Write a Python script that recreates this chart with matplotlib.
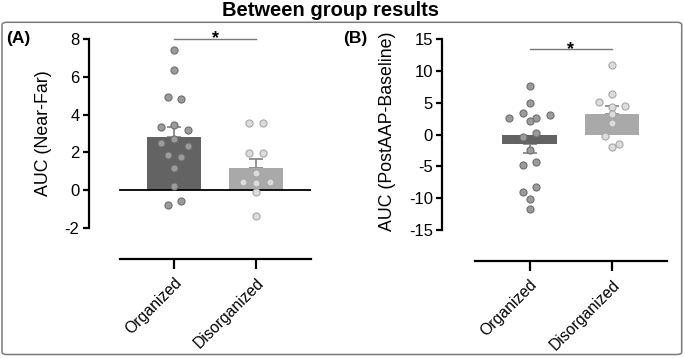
import numpy as np
import matplotlib
matplotlib.use('Agg')
import matplotlib.pyplot as plt
from matplotlib.patches import FancyBboxPatch

plt.rcParams['font.family'] = ['Liberation Sans', 'DejaVu Sans']

groups = ['Organized', 'Disorganized']

# (A) AUC (Near-Far), single subjects
a_org = [7.42, 6.35, 4.95, 4.85, 3.35, 3.45, 3.2, 2.5, 2.7, 2.35, 1.85, 1.75, 1.15, 0.2, -0.8, -0.55]
a_dis = [3.53, 3.58, 1.96, 1.96, 0.89, 0.45, 0.38, 0.45, -0.07, -1.35]
a_mean = [2.8, 1.17]
a_sem = [0.57, 0.5]

# (B) AUC (PostAAP-Baseline), single subjects
b_org = [7.66, 5.03, 2.58, 3.46, 2.58, 3.15, 2.15, -0.3, 0.27, -2.36, -4.7, -4.3, -9.1, -8.2, -10.2, -11.7]
b_dis = [10.96, 6.45, 5.14, 4.3, 4.5, 3.25, 1.9, -0.25, -2.0, -1.4]
b_mean = [-1.45, 3.2]
b_sem = [1.45, 1.3]

W, H = 685, 358
fig = plt.figure(figsize=(W / 100, H / 100), dpi=100)

bar_cols = ['#636363', '#a9a9a9']
dot_face = ['#9b9b9b', '#dcdcdc']
dot_edge = ['#6e6e6e', '#a6a6a6']


def swarm(vals, px_y, px_x, dot=7.6, gap=13.4):
    # group values closer than one dot, spread each group sideways (prism style)
    vals = np.asarray(vals)
    order = np.argsort(-vals, kind='stable')
    offs = np.zeros(len(vals))
    grp = []
    for i in order:
        if grp and (vals[grp[-1][0]] - vals[i]) * px_y < dot:
            grp[-1].append(i)
        else:
            grp.append([i])
    for g in grp:
        g = sorted(g)
        n = len(g)
        for k, i in enumerate(g):
            offs[i] = (k - (n - 1) / 2) * gap / px_x
    return offs


def panel(box, xlim, ylim, yticks, pts, means, sems, ylabel, lab_x, lab_y, sig_y, xbound_lo):
    l, r, t, b = box
    ax = fig.add_axes([l / W, 1 - b / H, (r - l) / W, (b - t) / H])
    ax.set_xlim(*xlim)
    ax.set_ylim(*ylim)
    px_x = (r - l) / (xlim[1] - xlim[0])
    px_y = (b - t) / (ylim[1] - ylim[0])
    x = np.arange(len(groups))

    ax.bar(x, means, width=0.66, color=bar_cols, zorder=2)
    for i in range(len(groups)):
        err = [[0], [sems[i]]] if means[i] >= 0 else [[sems[i]], [0]]
        ax.errorbar(x[i], means[i], yerr=err, fmt='none', ecolor='#8a8a8a',
                    elinewidth=1.3, capsize=4.7, capthick=1.3, zorder=1.5)
        v = np.asarray(pts[i])
        xs = x[i] + swarm(v, px_y, px_x)
        ax.scatter(xs, v, s=26, facecolor=dot_face[i], edgecolor=dot_edge[i],
                   linewidth=0.8, zorder=3, clip_on=False)

    # significance bar
    ax.plot(x, [sig_y, sig_y], color='#777777', lw=1, clip_on=False)
    ax.annotate('*', xy=(x.mean(), sig_y), xytext=(0, -3.2), textcoords='offset points',
                ha='center', va='baseline', fontsize=13, fontweight='bold')

    for s in ['top', 'right']:
        ax.spines[s].set_visible(False)
    ax.spines['left'].set_linewidth(1.6)
    ax.spines['bottom'].set_linewidth(1.6)
    ax.spines['bottom'].set_position(('outward', 22.5))
    ax.spines['bottom'].set_bounds(xbound_lo, xlim[1])
    ax.set_yticks(yticks)
    ax.set_yticklabels([str(v) for v in yticks])
    ax.tick_params(axis='y', length=4, width=1.6, pad=2.5, labelsize=12)
    ax.set_xticks(x)
    ax.set_xticklabels(groups, rotation=45, ha='right', va='top', rotation_mode='anchor')
    ax.tick_params(axis='x', length=7.2, width=1.6, pad=4, labelsize=11.3)
    ax.set_ylabel(ylabel, fontsize=12.8, va='center')
    ax.yaxis.set_label_coords(lab_x, lab_y)
    return ax


axA = panel((88.5, 311, 39, 228), (-1.049, 1.671), (-2, 8), [-2, 0, 2, 4, 6, 8],
            [a_org, a_dis], a_mean, a_sem, 'AUC (Near-Far)',
            (44 - 88.5) / (311 - 88.5), 0.5, 8.0, -0.66)
axA.axhline(0, xmin=(120 - 88.5) / (311 - 88.5), xmax=1, color='black', lw=1.3, zorder=2.5)

axB = panel((442, 667, 39.3, 230), (-1.063, 1.668), (-15, 15), [-15, -10, -5, 0, 5, 10, 15],
            [b_org, b_dis], b_mean, b_sem, 'AUC (PostAAP-Baseline)',
            (388 - 442) / (667 - 442), 0.52, 13.4, -0.665)

fig.text(330 / W, 1 - 10 / H, 'Between group results', ha='center', va='center',
         fontsize=14.5, fontweight='bold')
fig.text(6 / W, 1 - 38 / H, '(A)', ha='left', va='center', fontsize=12.5, fontweight='bold')
fig.text(343 / W, 1 - 38 / H, '(B)', ha='left', va='center', fontsize=12.5, fontweight='bold')

frame = FancyBboxPatch((2 / W, 1 - 354.5 / H), 679.7 / W, 332.2 / H,
                       boxstyle='round,pad=0,rounding_size=0.007',
                       transform=fig.transFigure, facecolor='none',
                       edgecolor='#7a7a7a', lw=1.1)
fig.patches.append(frame)

fig.savefig('out.png', dpi=100)
